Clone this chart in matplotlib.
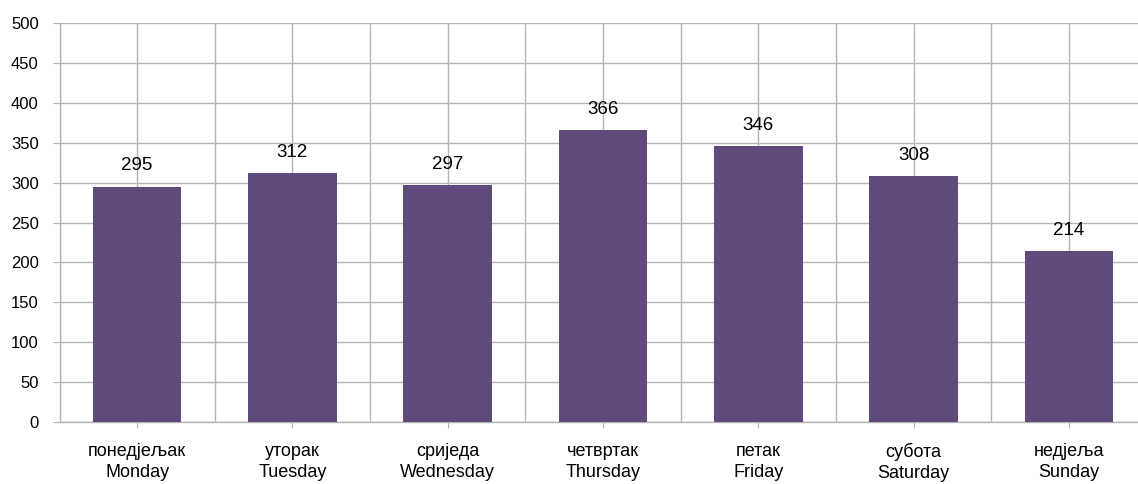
import matplotlib
matplotlib.use("Agg")
import matplotlib.pyplot as plt
import numpy as np

days_sr = ["понедјељак", "уторак", "сриједа", "четвртак", "петак", "субота", "недјеља"]
days_en = ["Monday", "Tuesday", "Wednesday", "Thursday", "Friday", "Saturday", "Sunday"]
values = [295, 312, 297, 366, 346, 308, 214]
yticks = list(range(0, 501, 50))

plt.rcParams['font.family'] = ['Liberation Sans', 'DejaVu Sans']

fig = plt.figure(figsize=(11.38, 4.84), dpi=100)
ax = fig.add_axes([59.5/1138, 62.3/484, 1087/1138, 398.4/484])

x = np.arange(len(values))
bars = ax.bar(x, values, width=0.57, color="#604A7B", zorder=3)

ax.set_xlim(-0.5, 6.5)
ax.set_ylim(0, 500)
ax.set_yticks(yticks)
ax.set_yticklabels([str(v) for v in yticks], fontsize=12)
ax.set_xticks(x)
ax.set_xticklabels([f"{a}\n{b}" for a, b in zip(days_sr, days_en)], fontsize=13, linespacing=1.35)

ax.set_xticks(np.arange(-0.5, 7, 0.5), minor=True)
ax.grid(True, which='minor', axis='x', color='#B4B4B4', linewidth=1.0, zorder=0)
ax.grid(True, which='major', axis='y', color='#B4B4B4', linewidth=1.0, zorder=0)
ax.grid(True, which='major', axis='x', color='#B4B4B4', linewidth=1.0, zorder=0)
ax.tick_params(axis='x', which='minor', length=0)
ax.tick_params(axis='x', which='major', length=4, color='#B4B4B4', pad=11)
ax.tick_params(axis='y', length=5, color='#B4B4B4', pad=10)

for s in ['top', 'right']:
    ax.spines[s].set_visible(False)
for s in ['left', 'bottom']:
    ax.spines[s].set_color('#B4B4B4')
    ax.spines[s].set_linewidth(1.0)

for xi, v in zip(x, values):
    ax.annotate(str(v), (xi, v), xytext=(0, 9), textcoords='offset points',
                ha='center', va='bottom', fontsize=13.5)

fig.savefig("out.png", dpi=100)
